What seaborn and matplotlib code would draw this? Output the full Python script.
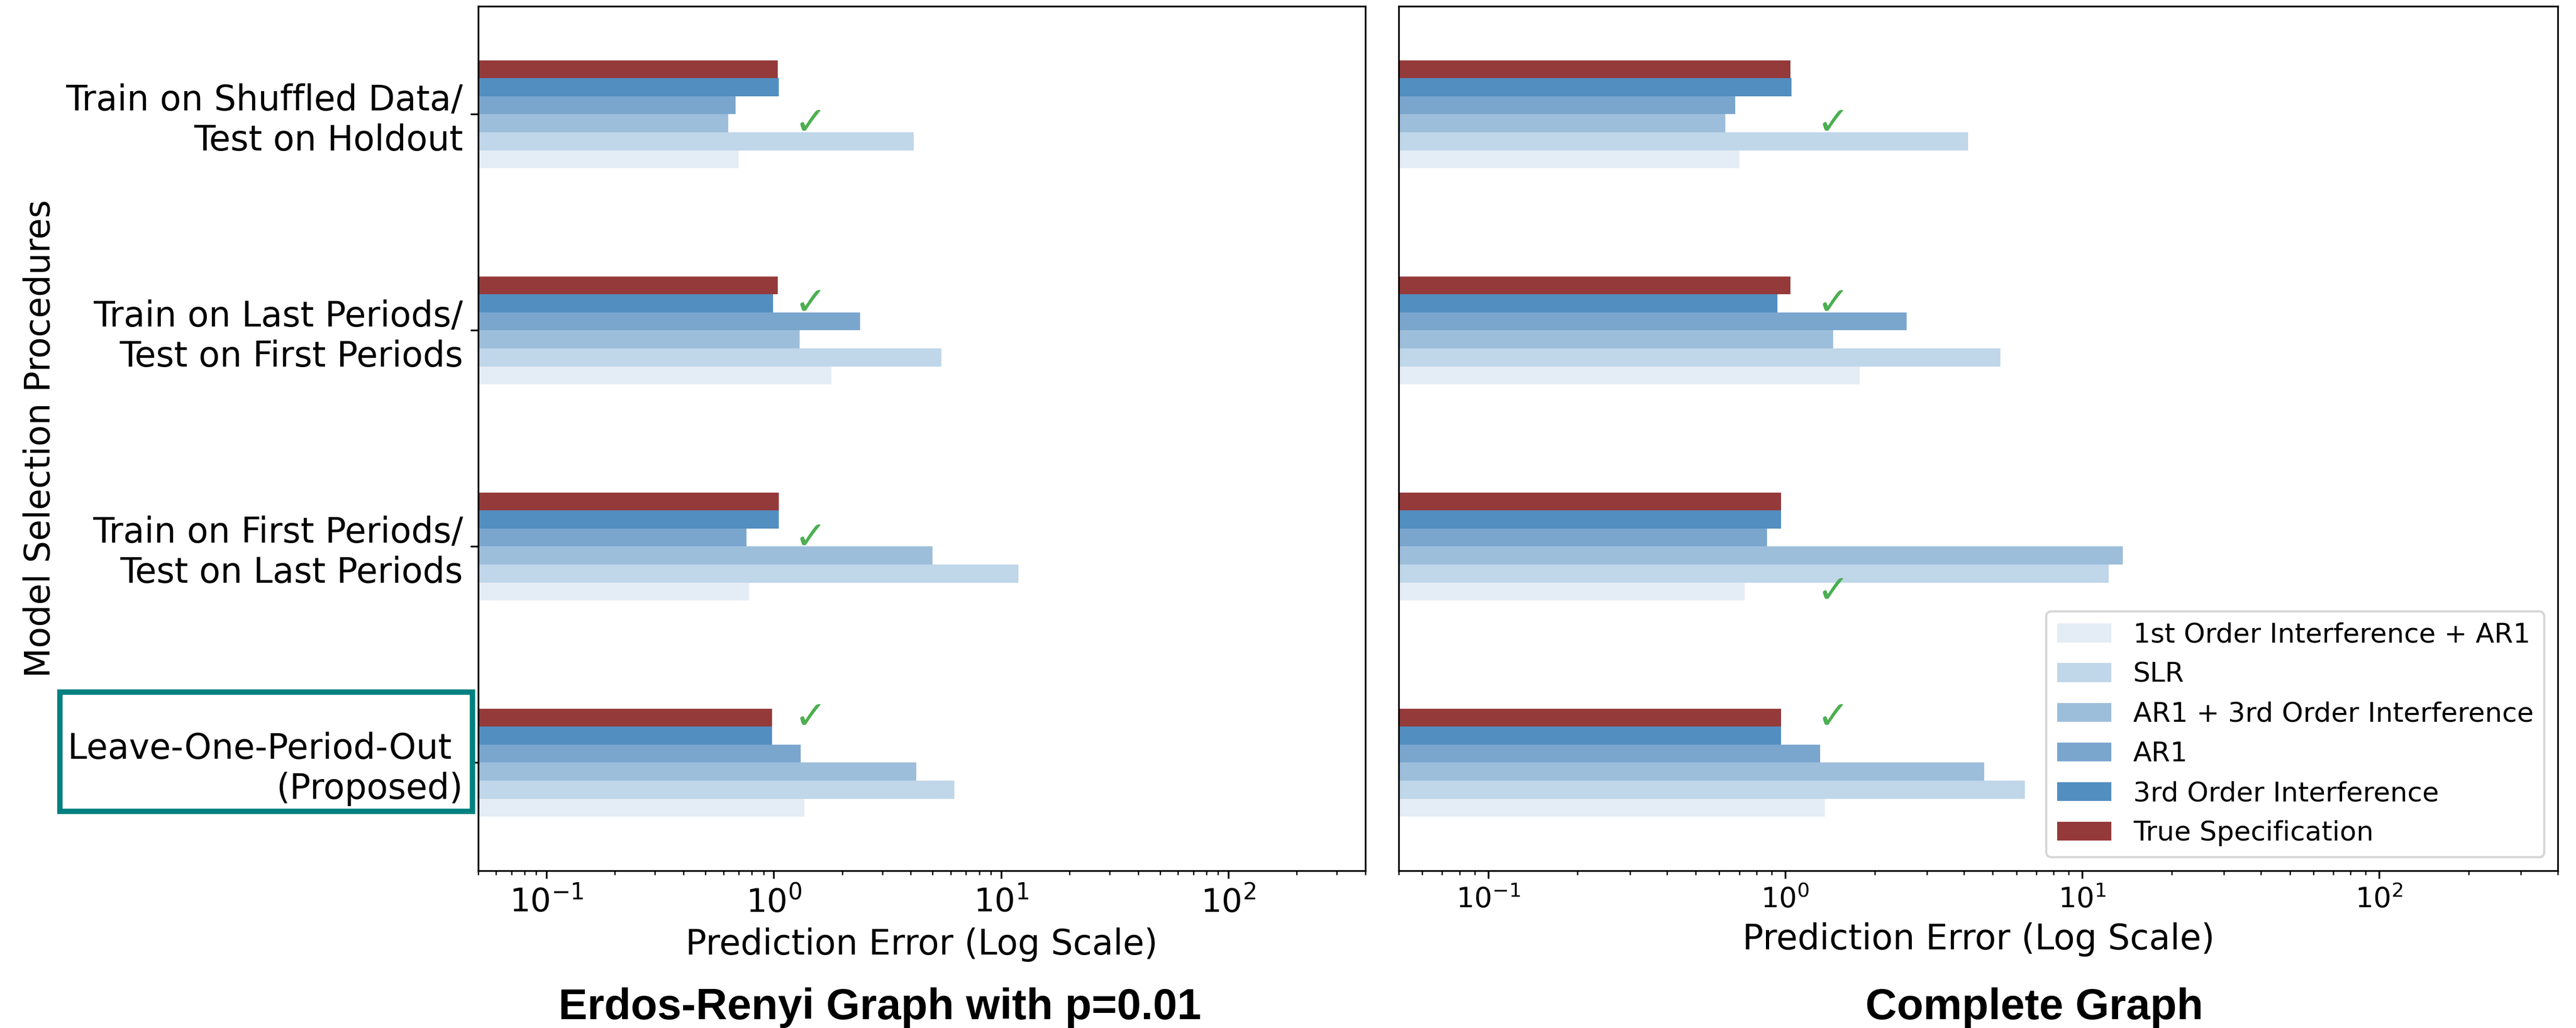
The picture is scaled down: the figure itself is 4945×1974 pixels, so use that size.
import pandas as pd
import matplotlib
matplotlib.use("Agg")
import matplotlib.pyplot as plt
from matplotlib.patches import Rectangle
import seaborn as sns


procedures = [
    "Train on Shuffled Data/\nTest on Holdout",
    "Train on Last Periods/\nTest on First Periods",
    "Train on First Periods/\nTest on Last Periods",
    "Leave-One-Period-Out \n(Proposed)",
]

# hue order, top bar of each group first
models = [
    "True Specification",
    "3rd Order Interference",
    "AR1",
    "AR1 + 3rd Order Interference",
    "SLR",
    "1st Order Interference + AR1",
]
model_colors = ["#953A3A", "#538EC1", "#7AA6CE", "#9DBEDB", "#C0D6E9", "#E4ECF5"]

# Erdos-Renyi graph, p=0.01
er_true_spec = [1.04, 1.04, 1.05, 0.98]
er_third_order = [1.05, 0.99, 1.05, 0.98]
er_ar1 = [0.68, 2.39, 0.76, 1.31]
er_ar1_third = [0.63, 1.30, 4.98, 4.24]
er_slr = [4.13, 5.45, 11.9, 6.22]
er_first_order = [0.70, 1.79, 0.78, 1.36]
er_selected = ["AR1 + 3rd Order Interference", "3rd Order Interference", "AR1", "True Specification"]

# Complete graph
cg_true_spec = [1.04, 1.04, 0.97, 0.97]
cg_third_order = [1.05, 0.94, 0.97, 0.97]
cg_ar1 = [0.68, 2.56, 0.87, 1.31]
cg_ar1_third = [0.63, 1.45, 13.7, 4.68]
cg_slr = [4.13, 5.30, 12.3, 6.40]
cg_first_order = [0.70, 1.78, 0.73, 1.36]
cg_selected = ["AR1 + 3rd Order Interference", "3rd Order Interference",
               "1st Order Interference + AR1", "True Specification"]


def to_long(series):
    rows = []
    for model, vals in zip(models, series):
        for proc, v in zip(procedures, vals):
            rows.append({"procedure": proc, "model": model, "error": v})
    return pd.DataFrame(rows)


def draw_panel(ax, df, selected, tick_size, legend):
    sns.barplot(data=df, x="error", y="procedure", hue="model", hue_order=models,
                order=procedures, palette=model_colors, orient="h", width=0.5,
                saturation=1, errorbar=None, legend=legend, ax=ax)
    ax.set_xscale("log")
    ax.set_xlim(0.05, 400)
    ax.set_xlabel("Prediction Error (Log Scale)", fontsize=16)
    ax.tick_params(axis="x", labelsize=tick_size)
    # green tick next to the selected model of each procedure
    for i, sel in enumerate(selected):
        bar = ax.containers[models.index(sel)][i]
        yc = bar.get_y() + bar.get_height() / 2
        ax.text(1.45, yc, "\u2713", color="#4CAF50", fontsize=18,
                ha="center", va="center", family="DejaVu Sans")


fig = plt.figure(figsize=(4945 / 300, 1974 / 300), dpi=300)
ax1 = fig.add_axes([0.1856, 0.153, 0.3444, 0.841])
ax2 = fig.add_axes([0.543, 0.153, 0.45, 0.841])

draw_panel(ax1, to_long([er_true_spec, er_third_order, er_ar1, er_ar1_third, er_slr, er_first_order]),
           er_selected, 15, False)
draw_panel(ax2, to_long([cg_true_spec, cg_third_order, cg_ar1, cg_ar1_third, cg_slr, cg_first_order]),
           cg_selected, 13, True)

ax1.set_ylabel("Model Selection Procedures", fontsize=16)
ax1.tick_params(axis="y", labelsize=16)
ax2.set_ylabel("")
ax2.tick_params(axis="y", left=False, labelleft=False)

handles, labels = ax2.get_legend_handles_labels()
ax2.legend(handles[::-1], labels[::-1], loc="lower right", fontsize=12.5)

# highlight the proposed procedure
fig.add_artist(Rectangle((115 / 4945, 1 - 1558 / 1974), 792 / 4945, 229 / 1974,
                         transform=fig.transFigure, fill=False,
                         edgecolor="#008080", linewidth=2.5))

fig.text(0.3416, 0.0086, "Erdos-Renyi Graph with p=0.01", ha="center", va="baseline",
         fontsize=20, fontweight="bold", family="Liberation Sans")
fig.text(0.7897, 0.0086, "Complete Graph", ha="center", va="baseline",
         fontsize=20, fontweight="bold", family="Liberation Sans")

fig.savefig("out.png", dpi=300)
